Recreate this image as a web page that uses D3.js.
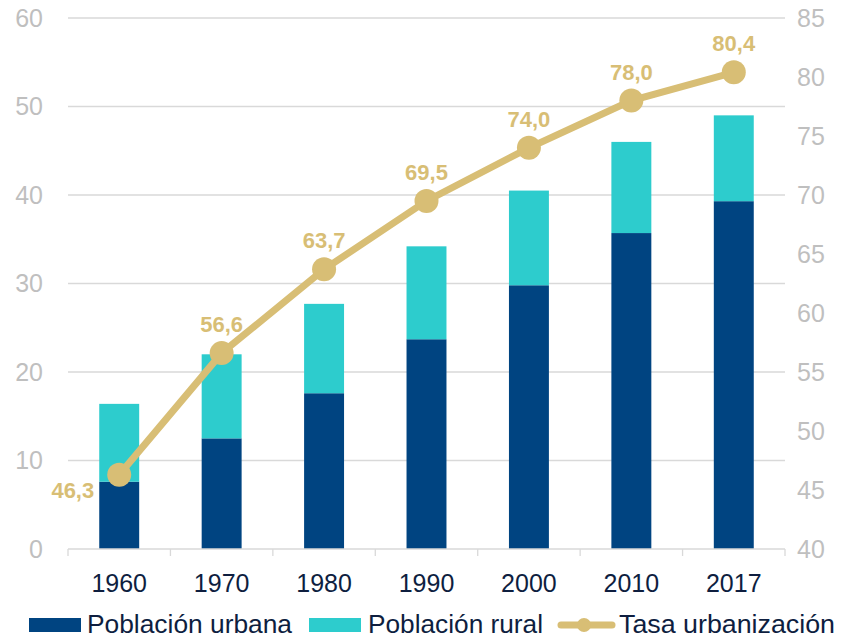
<!DOCTYPE html>
<html>
<head>
<meta charset="utf-8">
<script src="https://cdn.jsdelivr.net/npm/d3@7"></script>
<style>
  body { margin: 0; background: #fff; }
  svg { display: block; font-family: "Liberation Sans", Arial, sans-serif; }
</style>
</head>
<body>
<svg id="chart" width="841" height="638"></svg>
<script>
// data
const years = ["1960", "1970", "1980", "1990", "2000", "2010", "2017"];
const urbana = [7.6, 12.5, 17.6, 23.7, 29.8, 35.7, 39.3];
const rural = [8.8, 9.5, 10.1, 10.5, 10.7, 10.3, 9.7];
const tasa = [46.3, 56.6, 63.7, 69.5, 74.0, 78.0, 80.4];
const tasaLabels = ["46,3", "56,6", "63,7", "69,5", "74,0", "78,0", "80,4"];
const leftTicks = [0, 10, 20, 30, 40, 50, 60];
const rightTicks = [40, 45, 50, 55, 60, 65, 70, 75, 80, 85];

const colUrbana = "#004481", colRural = "#2dcccd", colTasa = "#d8be75";
const textDark = "#0e1e3f";

const svg = d3.select("#chart");
const margin = {top: 18, right: 56, bottom: 89, left: 68};
const width = 841, height = 638;
const innerW = width - margin.left - margin.right;
const innerH = height - margin.top - margin.bottom;

const g = svg.append("g").attr("transform", `translate(${margin.left},${margin.top})`);

const x = d3.scaleBand().domain(years).range([0, innerW]).paddingInner(0.61).paddingOuter(0.305);
const y = d3.scaleLinear().domain([0, 60]).range([innerH, 0]);
const y2 = d3.scaleLinear().domain([40, 85]).range([innerH, 0]);

// gridlines
g.selectAll(".grid").data(leftTicks.slice(1)).enter().append("line")
  .attr("x1", 0).attr("x2", innerW)
  .attr("y1", d => y(d)).attr("y2", d => y(d))
  .attr("stroke", "#d9d9d9").attr("stroke-width", 1.3);

// left axis labels
g.selectAll(".ly").data(leftTicks).enter().append("text")
  .attr("x", -25).attr("y", d => y(d)).attr("dy", "0.35em")
  .attr("text-anchor", "end").attr("fill", "#bfbfbf").attr("font-size", 25)
  .text(d => d);

// right axis labels
g.selectAll(".ry").data(rightTicks).enter().append("text")
  .attr("x", innerW + 12).attr("y", d => y2(d)).attr("dy", "0.35em")
  .attr("text-anchor", "start").attr("fill", "#bfbfbf").attr("font-size", 25)
  .text(d => d);

// stacked bars
const stacked = years.map((yr, i) => ({year: yr, u: urbana[i], r: rural[i]}));
const bars = g.selectAll(".bar").data(stacked).enter().append("g");
bars.append("rect")
  .attr("x", d => x(d.year)).attr("width", x.bandwidth())
  .attr("y", d => y(d.u)).attr("height", d => y(0) - y(d.u))
  .attr("fill", colUrbana);
bars.append("rect")
  .attr("x", d => x(d.year)).attr("width", x.bandwidth())
  .attr("y", d => y(d.u + d.r)).attr("height", d => y(d.u) - y(d.u + d.r))
  .attr("fill", colRural);

// bottom axis
g.append("line").attr("x1", 0).attr("x2", innerW).attr("y1", innerH).attr("y2", innerH)
  .attr("stroke", "#d9d9d9").attr("stroke-width", 1.3);
g.selectAll(".tick").data(d3.range(years.length + 1)).enter().append("line")
  .attr("x1", i => i * innerW / years.length).attr("x2", i => i * innerW / years.length)
  .attr("y1", innerH).attr("y2", innerH + 7)
  .attr("stroke", "#d9d9d9").attr("stroke-width", 1.3);
g.selectAll(".xl").data(years).enter().append("text")
  .attr("x", d => x(d) + x.bandwidth() / 2).attr("y", innerH + 43)
  .attr("text-anchor", "middle").attr("fill", textDark).attr("font-size", 25)
  .text(d => d);

// line
const cx = i => x(years[i]) + x.bandwidth() / 2;
const line = d3.line().x((d, i) => cx(i)).y(d => y2(d));
g.append("path").datum(tasa).attr("d", line)
  .attr("fill", "none").attr("stroke", colTasa).attr("stroke-width", 7);
g.selectAll(".pt").data(tasa).enter().append("circle")
  .attr("cx", (d, i) => cx(i)).attr("cy", d => y2(d)).attr("r", 12)
  .attr("fill", colTasa);
g.selectAll(".pl").data(tasa).enter().append("text")
  .attr("x", (d, i) => i === 0 ? cx(i) - 25 : cx(i))
  .attr("y", (d, i) => i === 0 ? y2(d) + 23 : y2(d) - 21)
  .attr("text-anchor", (d, i) => i === 0 ? "end" : "middle")
  .attr("fill", colTasa).attr("font-size", 22).attr("font-weight", "bold")
  .text((d, i) => tasaLabels[i]);

// legend
const lg = svg.append("g").attr("transform", "translate(0,625)");
lg.append("rect").attr("x", 29).attr("y", -7).attr("width", 52).attr("height", 14).attr("fill", colUrbana);
lg.append("text").attr("x", 87).attr("y", 8).attr("font-size", 25).attr("fill", textDark)
  .attr("textLength", 205).attr("lengthAdjust", "spacingAndGlyphs").text("Población urbana");
lg.append("rect").attr("x", 309).attr("y", -7).attr("width", 52).attr("height", 14).attr("fill", colRural);
lg.append("text").attr("x", 368).attr("y", 8).attr("font-size", 25).attr("fill", textDark)
  .attr("textLength", 175).attr("lengthAdjust", "spacingAndGlyphs").text("Población rural");
lg.append("line").attr("x1", 561).attr("x2", 612).attr("y1", 0).attr("y2", 0).attr("stroke", colTasa).attr("stroke-width", 7).attr("stroke-linecap", "round");
lg.append("circle").attr("cx", 584).attr("cy", 0).attr("r", 7).attr("fill", colTasa);
lg.append("text").attr("x", 619).attr("y", 8).attr("font-size", 25).attr("fill", textDark)
  .attr("textLength", 216).attr("lengthAdjust", "spacingAndGlyphs").text("Tasa urbanización");
</script>
</body>
</html>
